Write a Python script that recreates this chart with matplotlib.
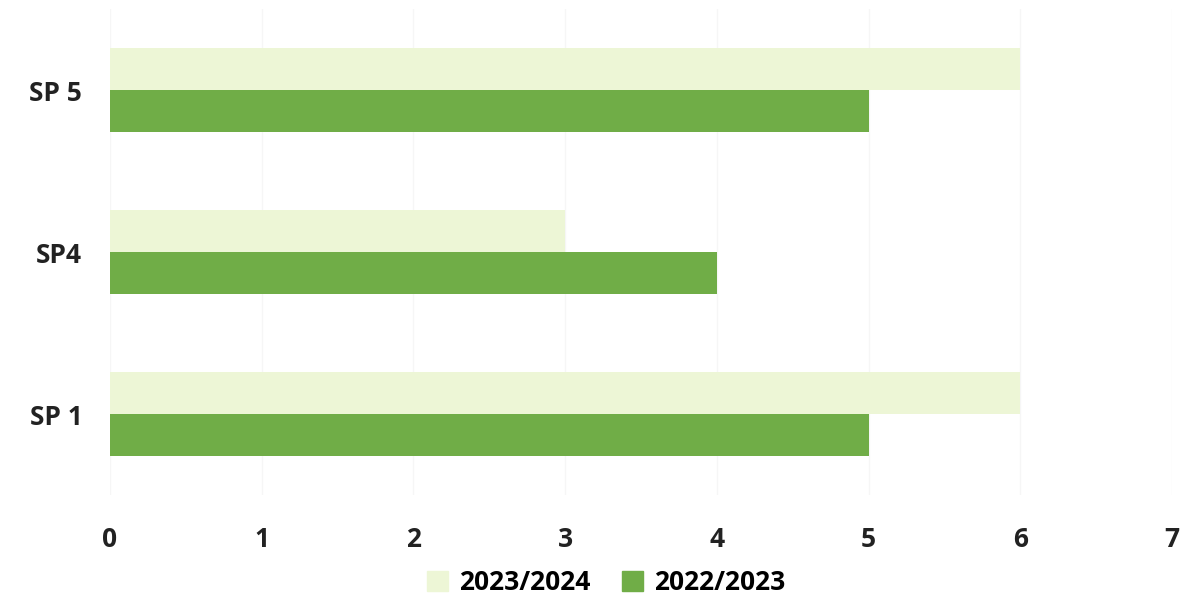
import matplotlib

matplotlib.use("Agg")
import matplotlib.pyplot as plt
import numpy as np
from matplotlib.patches import Patch

categories = ["SP 1", "SP4", "SP 5"]
values_2023_24 = [6, 3, 6]
values_2022_23 = [5, 4, 5]
x_ticks = [0, 1, 2, 3, 4, 5, 6, 7]

light = "#EDF6D6"
dark = "#70AD47"

plt.rcParams["font.family"] = ["Open Sans", "DejaVu Sans"]
plt.rcParams["font.weight"] = "bold"

fig = plt.figure(figsize=(12, 6.04), dpi=100)
ax = fig.add_axes([0.0917, 0.1805, 0.885, 0.804])

y = np.arange(len(categories))
h = 0.26
ax.barh(y + h / 2, values_2023_24, height=h, color=light, zorder=2)
ax.barh(y - h / 2, values_2022_23, height=h, color=dark, zorder=2)

ax.set_xlim(0, 7)
ax.set_ylim(-0.5, len(categories) - 0.5)
ax.set_xticks(x_ticks)
ax.set_yticks(y)
ax.set_yticklabels(categories)
ax.tick_params(axis="both", length=0, labelsize=19, colors="#222222")
ax.tick_params(axis="x", pad=22)
ax.tick_params(axis="y", pad=20)
for lbl in ax.get_xticklabels() + ax.get_yticklabels():
    lbl.set_fontweight("bold")

ax.grid(axis="x", color="#f6f6f6", linewidth=1, zorder=0)
for s in ax.spines.values():
    s.set_visible(False)

handles = [Patch(color=light, label="2023/2024"), Patch(color=dark, label="2022/2023")]
fig.legend(handles=handles, loc="center", bbox_to_anchor=(0.505, 0.035), ncol=2,
           frameon=False, handlelength=0.8, handleheight=0.8,
           handletextpad=0.4, columnspacing=1.2, prop={"weight": "bold", "size": 19})

fig.savefig("out.png", dpi=100)
